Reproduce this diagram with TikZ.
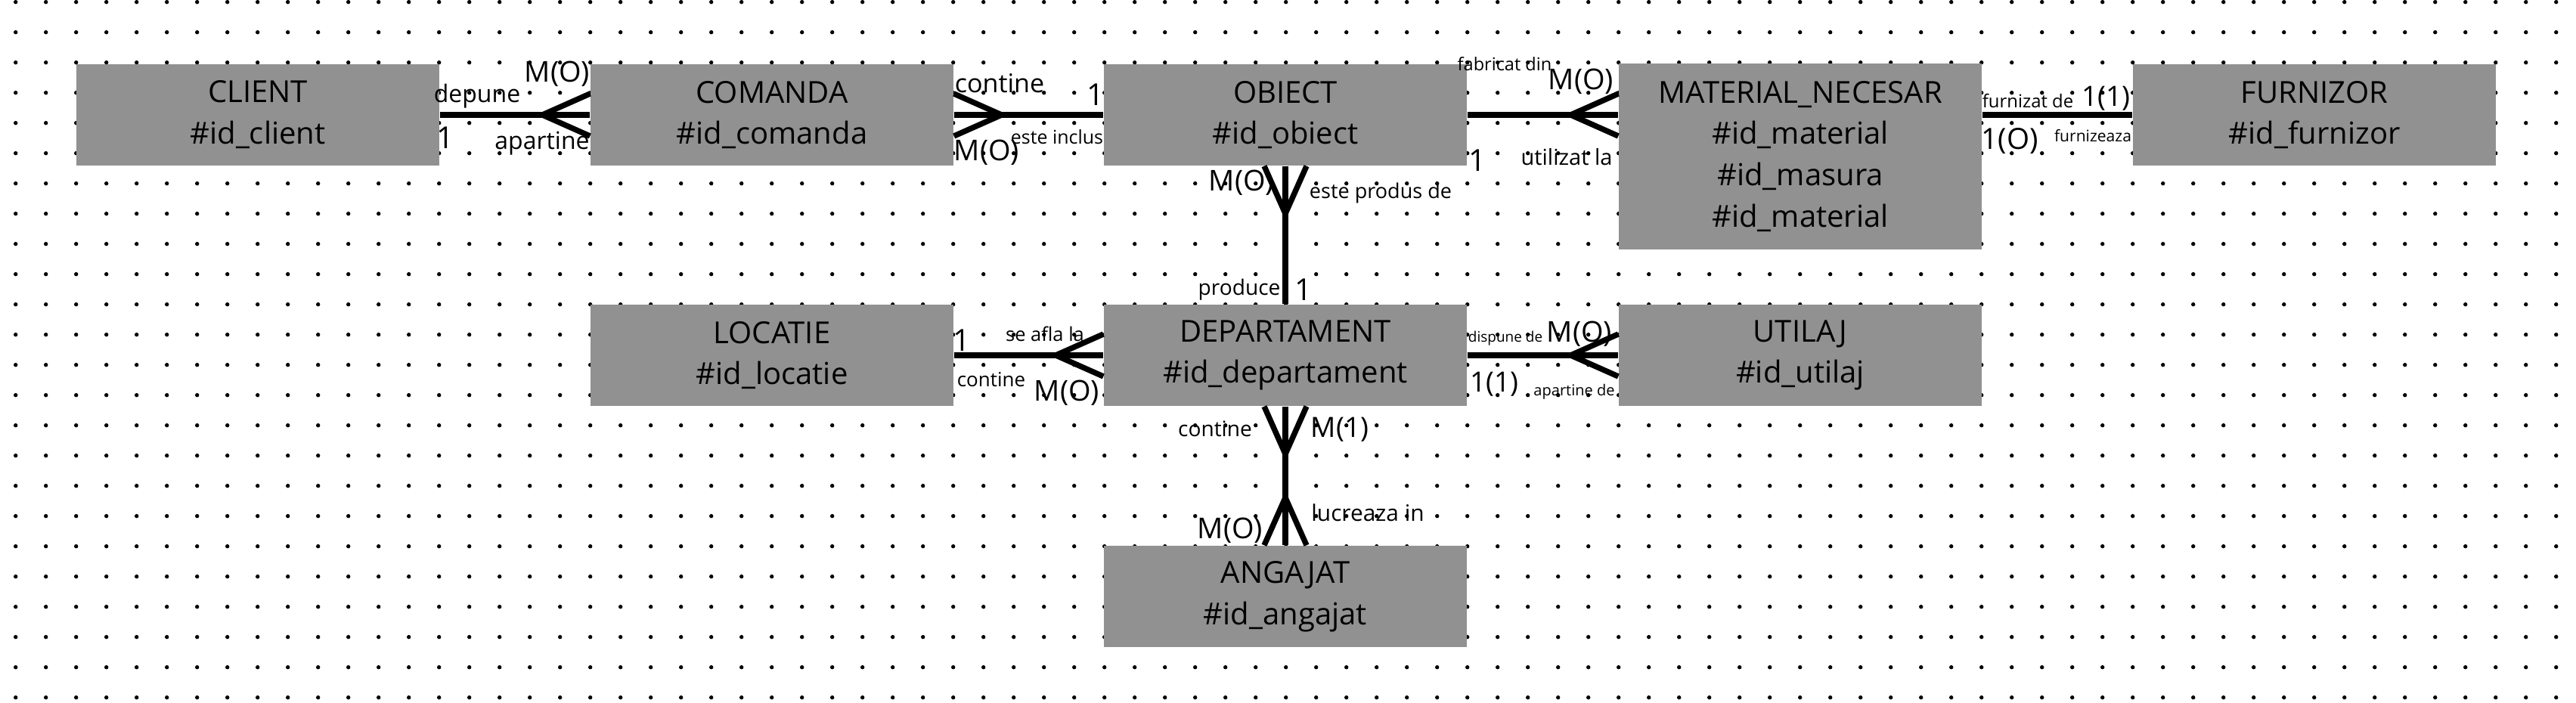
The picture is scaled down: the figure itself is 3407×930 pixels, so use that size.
\documentclass[tikz,border=0pt]{standalone}
\usepackage{fontspec}
\setmainfont{Open Sans}
\usetikzlibrary{calc}
\definecolor{slab}{RGB}{145,145,145}
\definecolor{pin}{RGB}{206,211,221}
\tikzset{
  entity/.style={fill=slab,minimum width=48mm,minimum height=#1,inner sep=0pt,align=center,
    font=\fontsize{11.4}{15.6}\selectfont},
  entity/.default=13.4mm,
  link/.style={line width=2.1pt},
  card/.style={inner sep=0pt,font=\fontsize{#1}{#1}\selectfont},
  card/.default=10.8,
  % crow's foot, tips on the box edge
  pics/crow/.style={code={
    \draw[link] (0,28) -- (63,0) -- (0,-28);
  }},
}
\begin{document}
\begin{tikzpicture}[x=0.1mm,y=-0.1mm]
  \useasboundingbox (0,0) rectangle (3407,930);
  \foreach \i in {0,...,84}
    \foreach \j in {0,...,23}
      \fill[pin] (20.7+40*\i,2.7+40*\j) circle (0.27mm);
  % entities
  \node[entity] (client) at (341,152) {CLIENT\\\#id\_client};
  \node[entity] (comanda) at (1021,152) {COMANDA\\\#id\_comanda};
  \node[entity] (obiect) at (1700,152) {OBIECT\\\#id\_obiect};
  \node[entity=24.6mm] (material) at (2381,207) {MATERIAL\_NECESAR\\\#id\_material\\\#id\_masura\\\#id\_material};
  \node[entity] (furnizor) at (3061,152) {FURNIZOR\\\#id\_furnizor};
  \node[entity] (locatie) at (1021,470) {LOCATIE\\\#id\_locatie};
  \node[entity] (departament) at (1700,470) {DEPARTAMENT\\\#id\_departament};
  \node[entity] (utilaj) at (2381,470) {UTILAJ\\\#id\_utilaj};
  \node[entity] (angajat) at (1700,789) {ANGAJAT\\\#id\_angajat};
  % relations
  \draw[link] (client.east) -- (comanda.west);
  \pic[rotate=180] at (comanda.west) {crow};
  \draw[link] (comanda.east) -- (obiect.west);
  \pic at (comanda.east) {crow};
  \coordinate (matin) at (material.west |- obiect.east);
  \draw[link] (obiect.east) -- (matin);
  \pic[rotate=180] at (matin) {crow};
  \coordinate (matout) at (material.east |- furnizor.west);
  \draw[link] (matout) -- (furnizor.west);
  \draw[link] (obiect.south) -- (departament.north);
  \pic[rotate=-90] at (obiect.south) {crow};
  \draw[link] (locatie.east) -- (departament.west);
  \pic[rotate=180] at (departament.west) {crow};
  \draw[link] (departament.east) -- (utilaj.west);
  \pic[rotate=180] at (utilaj.west) {crow};
  \draw[link] (departament.south) -- (angajat.north);
  \pic[rotate=-90] at (departament.south) {crow};
  \pic[rotate=90] at (angajat.north) {crow};
  % client - comanda
  \node[card=9.1] (cl-r1) at (631,127) {depune};
  \node[card] (cl-m) at (737,98) {M(O)};
  \node[card=11.4] (cl-1) at (589,182) {1};
  \node[card=9.1] (cl-r2) at (717,190) {apartine};
  % comanda - obiect
  \node[card=9.7] (co-r1) at (1322,110) {contine};
  \node[card=11.4] (co-1) at (1449,125) {1};
  \node[card=7.1] (co-r2) at (1398,181) {este inclus};
  \node[card] (co-m) at (1305,202) {M(O)};
  % obiect - material
  \node[card=6.7] (ob-r1) at (1990,85) {fabricat din};
  \node[card] (ob-m) at (2091,108) {M(O)};
  \node[card=11.4] (ob-1) at (1954,212) {1};
  \node[card=8.25] (ob-r2) at (2072,208) {utilizat la};
  % material - furnizor
  \node[card=6.8] (ma-r1) at (2682,133) {furnizat de};
  \node[card=10.5] (ma-11) at (2785,130) {1(1)};
  \node[card=11] (ma-10) at (2658,187) {1(O)};
  \node[card=6] (ma-r2) at (2768,180) {furnizeaza};
  % obiect - departament
  \node[card] (od-m) at (1642,242) {M(O)};
  \node[card=7.7] (od-r1) at (1826,255) {este produs de};
  \node[card=8] (od-r2) at (1639,383) {produce};
  \node[card=11.4] (od-1) at (1724,383) {1};
  % locatie - departament
  \node[card=11.4] (lo-1) at (1272,450) {1};
  \node[card=7.25] (lo-r1) at (1382,442) {se afla la};
  \node[card=7.4] (lo-r2) at (1311,502) {contine};
  \node[card] (lo-m) at (1411,520) {M(O)};
  % departament - utilaj
  \node[card=5.4] (ut-r1) at (1991,448) {dispune de};
  \node[card] (ut-m) at (2089,442) {M(O)};
  \node[card=10.5] (ut-11) at (1976,508) {1(1)};
  \node[card=5.7] (ut-r2) at (2082,518) {apartine de};
  % departament - angajat
  \node[card=8] (an-r1) at (1607,567) {contine};
  \node[card=10.5] (an-m1) at (1772,568) {M(1)};
  \node[card=8.5] (an-r2) at (1809,678) {lucreaza in};
  \node[card] (an-m0) at (1627,702) {M(O)};
\end{tikzpicture}
\end{document}
